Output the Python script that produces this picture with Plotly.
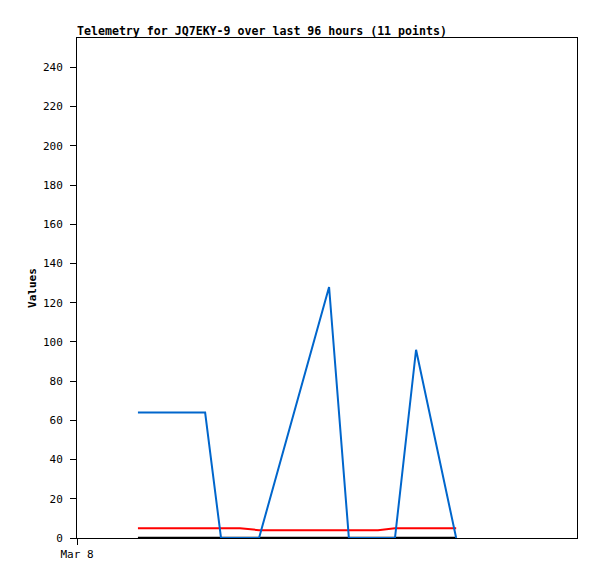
import plotly.graph_objects as go
from datetime import datetime, timedelta

start = datetime(2024, 3, 8, 0, 0)
hours = [11.7, 24.6, 27.65, 31.3, 34.95, 48.4, 52.2, 57.8, 61.05, 65.1, 72.8]
times = [start + timedelta(hours=h) for h in hours]

blue_vals = [64, 64, 0, 0, 0, 128, 0, 0, 0, 96, 0]
red_vals = [5, 5, 5, 5, 4, 4, 4, 4, 5, 5, 5]
black_vals = [0, 0, 0, 0, 0, 0, 0, 0, 0, 0, 0]

y_ticks = list(range(0, 241, 20))
x_tick_vals = [start]
x_tick_text = ["Mar 8"]

font_family = "DejaVu Sans Mono"

W, H = 589, 571

fig = go.Figure()
fig.add_trace(go.Scatter(x=times, y=black_vals, mode="lines",
                         line=dict(color="#000000", width=2.5), showlegend=False))
fig.add_trace(go.Scatter(x=times, y=red_vals, mode="lines",
                         line=dict(color="#FF0000", width=2), showlegend=False))
fig.add_trace(go.Scatter(x=times, y=blue_vals, mode="lines",
                         line=dict(color="#0066CC", width=2), showlegend=False))

fig.update_layout(
    width=W, height=H,
    margin=dict(l=69, r=20, t=30, b=41, autoexpand=False),
    paper_bgcolor="white", plot_bgcolor="white",
    font=dict(family=font_family, size=11, color="black"),
    title=dict(text="<b>Telemetry for JQ7EKY-9 over last 96 hours (11 points)</b>",
               x=69/W, xanchor="left", y=1-23/H, yanchor="middle",
               font=dict(family=font_family, size=11.6, color="black")),
    xaxis=dict(range=[start, start + timedelta(hours=96)],
               tickvals=x_tick_vals, ticktext=x_tick_text,
               ticks="outside", ticklen=6, tickcolor="black",
               showline=True, linecolor="black", linewidth=1, mirror=True,
               showgrid=False, zeroline=False),
    yaxis=dict(range=[0, 255], tickvals=y_ticks,
               ticks="outside", ticklen=6, tickcolor="black",
               ticklabelstandoff=5,
               showline=True, linecolor="black", linewidth=1, mirror=True,
               showgrid=False, zeroline=False,
               title=dict(text="<b>Values</b>", standoff=4,
                          font=dict(family=font_family, size=11))),
)

fig.write_html("out.html")
